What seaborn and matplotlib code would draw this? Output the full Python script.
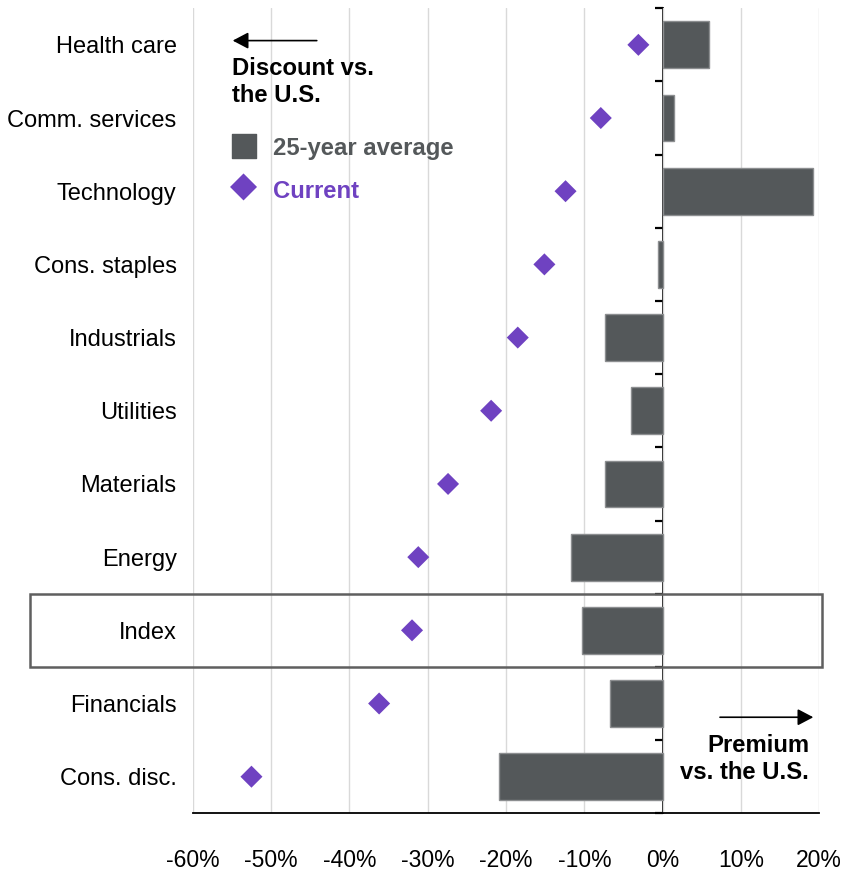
import matplotlib
matplotlib.use('Agg')
import matplotlib.pyplot as plt
import matplotlib.transforms as mtransforms
from matplotlib.patches import Rectangle
import pandas as pd
import seaborn as sns

# Data (% premium / discount vs. the U.S.)
sectors = ['Health care', 'Comm. services', 'Technology', 'Cons. staples',
           'Industrials', 'Utilities', 'Materials', 'Energy', 'Index',
           'Financials', 'Cons. disc.']
avg_25y = [5.9, 1.4, 19.2, -0.6, -7.4, -4.0, -7.3, -11.7, -10.3, -6.7, -20.9]
current = [-3.1, -7.9, -12.4, -15.1, -18.5, -21.9, -27.4, -31.2, -32.0, -36.2, -52.5]
x_ticks = [-60, -50, -40, -30, -20, -10, 0, 10, 20]
x_labels = ['-60%', '-50%', '-40%', '-30%', '-20%', '-10%', '0%', '10%', '20%']

df = pd.DataFrame({'sector': sectors, 'avg': avg_25y, 'current': current})

sns.set_theme(style='white')
plt.rcParams['font.family'] = ['Liberation Sans', 'DejaVu Sans']

BAR = '#54585a'
PURPLE = '#6f42c1'
FS = 16.5
FS_CAT = 17
FS_BOLD = 17.2

fig = plt.figure(figsize=(8.43, 8.76), dpi=100)
ax = fig.add_axes([0.2286, 0.0716, 0.7433, 0.919])

sns.barplot(data=df, y='sector', x='avg', order=sectors, color=BAR,
            saturation=1, width=0.64, edgecolor='#8c8e90', linewidth=1,
            ax=ax, zorder=2)
sns.scatterplot(data=df, y='sector', x='current', marker='D', s=126,
                color=PURPLE, edgecolor='none', ax=ax, zorder=4)

ax.set_xlim(-60, 20)
ax.set_ylim(len(sectors) - 0.5, -0.5)
ax.set_xticks(x_ticks, x_labels)
ax.tick_params(axis='x', length=0, pad=26, labelsize=FS, colors='black')
ax.tick_params(axis='y', length=0, pad=11.5, labelsize=FS_CAT, colors='black')
ax.set_xlabel('')
ax.set_ylabel('')
ax.grid(axis='x', color='#d9d9d9', linewidth=1)
ax.grid(axis='y', visible=False)
ax.set_axisbelow(True)
for side in ['left', 'right', 'top']:
    ax.spines[side].set_visible(False)
ax.spines['bottom'].set_color('black')
ax.spines['bottom'].set_linewidth(1.3)

# zero line with category boundary ticks
sec = ax.secondary_yaxis(0, transform=ax.transData)
sec.set_yticks([i - 0.5 for i in range(len(sectors) + 1)], [])
sec.tick_params(length=6, width=1.6, color='black', direction='out')
sec.spines['left'].set_color('black')
sec.spines['left'].set_linewidth(1.3)

# box around the Index row
trans = mtransforms.blended_transform_factory(fig.transFigure, ax.transData)
idx = sectors.index('Index')
ax.add_patch(Rectangle((0.0356, idx - 0.5), 0.9394, 1, transform=trans,
                       fill=False, edgecolor='#5f5f5f', linewidth=1.8,
                       clip_on=False, zorder=5))

# arrows and annotations
arrow = dict(arrowstyle='-|>,head_length=0.95,head_width=0.5', color='black',
             lw=1.2, shrinkA=0, shrinkB=0, mutation_scale=10)
ax.annotate('', xy=(0.0638, 0.9598), xytext=(0.198, 0.9598),
            xycoords='axes fraction', arrowprops=arrow)
ax.text(0.0627, 0.9395, 'Discount vs.\nthe U.S.', transform=ax.transAxes,
        ha='left', va='top', fontsize=FS_BOLD, fontweight='bold', color='black')

ax.annotate('', xy=(0.9904, 0.1193), xytext=(0.8415, 0.1193),
            xycoords='axes fraction', arrowprops=arrow)
ax.text(0.984, 0.0985, 'Premium\nvs. the U.S.', transform=ax.transAxes,
        ha='right', va='top', multialignment='right', fontsize=FS_BOLD,
        fontweight='bold', color='black')

# legend
ax.scatter([0.0811], [0.829], marker='s', s=310, color=BAR,
           transform=ax.transAxes, clip_on=False, zorder=4)
ax.scatter([0.0811], [0.778], marker='D', s=189, color=PURPLE,
           edgecolor='none', transform=ax.transAxes, clip_on=False, zorder=4)
ax.text(0.1277, 0.8178, '25-year average', transform=ax.transAxes,
        ha='left', va='baseline', fontsize=FS_BOLD, fontweight='bold', color=BAR)
ax.text(0.1277, 0.7647, 'Current', transform=ax.transAxes,
        ha='left', va='baseline', fontsize=FS_BOLD, fontweight='bold', color=PURPLE)

fig.savefig('out.png', dpi=100)
